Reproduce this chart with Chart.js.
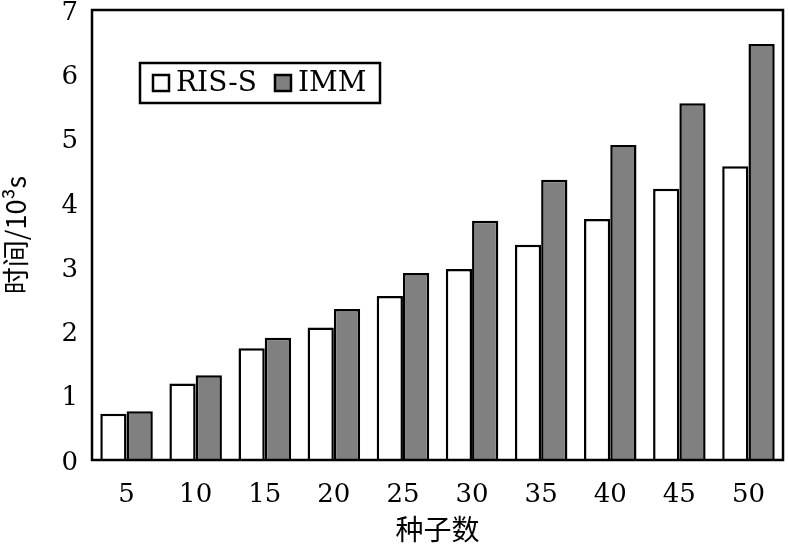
<!DOCTYPE html>
<html lang="zh">
<head>
  <meta charset="UTF-8" />
  <title>种子数与时间</title>
  <script src="https://cdn.jsdelivr.net/npm/chart.js"></script>
  <style>
    html, body {
      margin: 0;
      padding: 0;
      background: #fff;
    }
    #wrap {
      width: 788px;
      height: 546px;
    }
  </style>
</head>
<body>
  <div id="wrap"><canvas id="chart"></canvas></div>

  <script>
    const seeds = ['5', '10', '15', '20', '25', '30', '35', '40', '45', '50'];
    const risS = [0.72, 1.19, 1.74, 2.06, 2.55, 2.97, 3.35, 3.75, 4.22, 4.57];
    const imm = [0.76, 1.32, 1.90, 2.35, 2.91, 3.72, 4.36, 4.90, 5.55, 6.47];
    const yTicks = [0, 1, 2, 3, 4, 5, 6, 7];

    const serif = "'DejaVu Serif', 'Liberation Serif', serif";
    const cjk = "'Noto Sans CJK SC', " + serif;

    // box around the plot + legend with a frame
    const frame = {
      id: 'frame',
      afterDraw(chart) {
        const { ctx, chartArea: a } = chart;
        ctx.save();
        ctx.strokeStyle = '#000';
        ctx.lineWidth = 2.5;
        ctx.strokeRect(a.left, a.top, a.right - a.left, a.bottom - a.top);

        // legend
        const x0 = 140, y0 = 63, w = 240, h = 40;
        ctx.fillStyle = '#fff';
        ctx.fillRect(x0, y0, w, h);
        ctx.strokeRect(x0, y0, w, h);
        ctx.font = '28px ' + serif;
        ctx.textBaseline = 'middle';
        let x = x0 + 13;
        chart.data.datasets.forEach(ds => {
          ctx.fillStyle = ds.backgroundColor;
          ctx.fillRect(x, y0 + 12, 16, 16);
          ctx.strokeRect(x, y0 + 12, 16, 16);
          x += 23;
          ctx.fillStyle = '#000';
          ctx.fillText(ds.label, x, y0 + h / 2 + 1);
          x += ctx.measureText(ds.label).width + 18;
        });
        ctx.restore();
      }
    };

    new Chart(document.getElementById('chart'), {
      type: 'bar',
      data: {
        labels: seeds,
        datasets: [
          {
            label: 'RIS-S',
            data: risS,
            backgroundColor: '#ffffff',
            borderColor: '#000',
            borderWidth: 2.5,
            borderSkipped: 'bottom'
          },
          {
            label: 'IMM',
            data: imm,
            backgroundColor: '#808080',
            borderColor: '#000',
            borderWidth: 2.5,
            borderSkipped: 'bottom'
          }
        ]
      },
      options: {
        responsive: true,
        maintainAspectRatio: false,
        animation: false,
        layout: { padding: { top: 10, right: 5, left: 0, bottom: 0 } },
        plugins: {
          legend: { display: false },
          tooltip: { enabled: false }
        },
        datasets: {
          bar: { categoryPercentage: 0.76, barPercentage: 1.0 }
        },
        scales: {
          x: {
            grid: { display: false, drawTicks: false },
            border: { display: false },
            ticks: {
              color: '#000',
              font: { family: serif, size: 26 },
              padding: 20
            },
            title: {
              display: true,
              text: '种子数',
              color: '#000',
              font: { family: cjk, size: 28 },
              padding: { top: 0, bottom: 0 }
            },
            afterFit(scale) { scale.height = 86; }
          },
          y: {
            min: 0,
            max: 7,
            afterBuildTicks(scale) {
              scale.ticks = yTicks.map(v => ({ value: v }));
            },
            grid: { display: false, drawTicks: false },
            border: { display: false },
            ticks: {
              color: '#000',
              font: { family: serif, size: 26 },
              padding: 14,
              labelOffset: 3
            },
            title: {
              display: true,
              text: '时间/10³s',
              color: '#000',
              font: { family: cjk, size: 27 },
              padding: { top: 0, bottom: 10 }
            },
            afterFit(scale) {
              scale.width = 92;
              scale.paddingTop = 0;
            }
          }
        }
      },
      plugins: [frame]
    });
  </script>
</body>
</html>
